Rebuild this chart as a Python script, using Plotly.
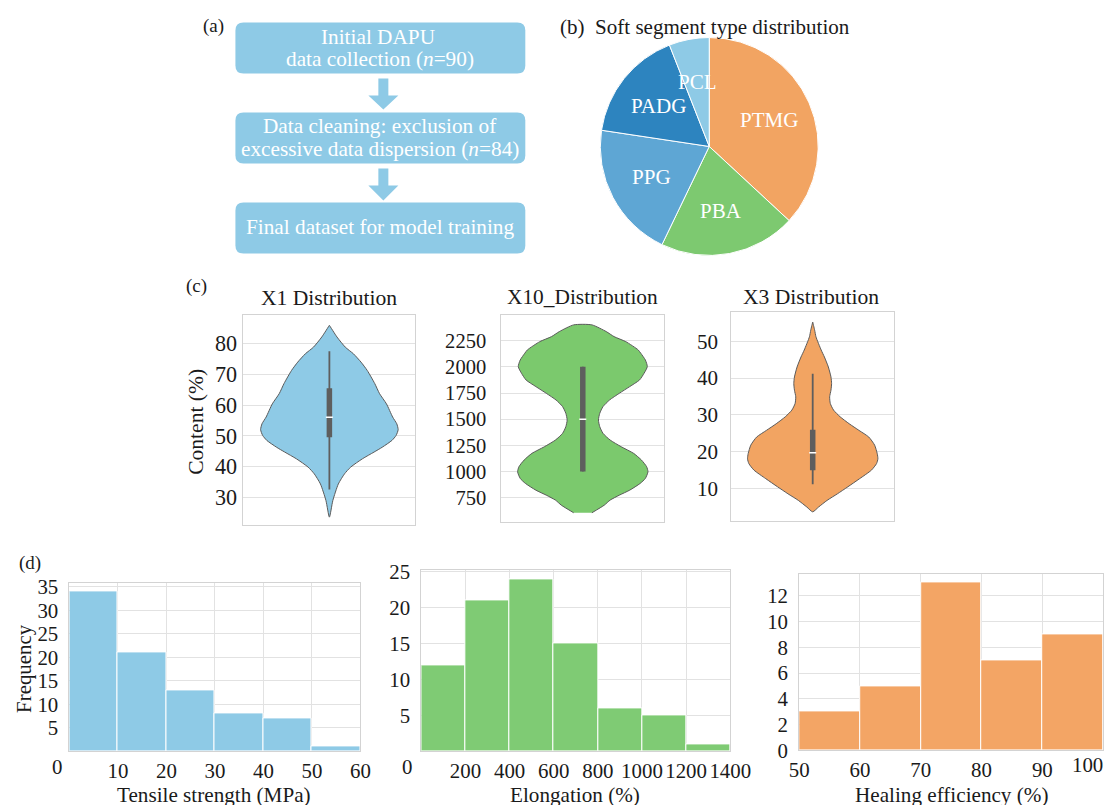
import math
import plotly.graph_objects as go

# The photographed page shows the figure shrunk by ~0.973 and offset by ~17.5 px;
# the layout below maps reference pixels through the inverse of that.
REF_W, REF_H = 1119, 805
S, OFF = 0.973, 17.5
W = math.ceil((REF_W - OFF) / S)
H = math.ceil((REF_H - OFF) / S)
FONT = "Liberation Serif"
TXT = "#1a1a1a"

# ---------------- data ----------------
# (a) flowchart text
flow_box1 = ["Initial DAPU", "data collection (<i>n</i>=90)"]
flow_box2 = ["Data cleaning: exclusion of", "excessive data dispersion (<i>n</i>=84)"]
flow_box3 = ["Final dataset for model training"]

# (b) soft segment type distribution
soft_labels = ["PTMG", "PBA", "PPG", "PADG", "PCL"]
soft_counts = [31, 17, 17, 14, 5]
soft_colors = ["#F2A462", "#7DC970", "#5EA6D4", "#2D84BF", "#8ECAE6"]

# (c) violin density profiles (value, relative half-width)
x1_levels = [23.5, 28.9, 34.3, 37.6, 39.8, 42.5, 44.7, 46.3, 48.5, 50.1, 52.0, 53.9,
             56.1, 60.4, 63.7, 67.0, 71.3, 74.0, 76.7, 78.9, 82.2, 86.0]
x1_width = [0, 0.05, 0.13, 0.22, 0.31, 0.48, 0.65, 0.77, 0.91, 0.97, 1.0, 0.98,
            0.92, 0.83, 0.73, 0.66, 0.55, 0.46, 0.35, 0.23, 0.11, 0]
x1_box = [32.5, 49.5, 56.0, 65.5, 77.5]   # whisker low, q1, median, q3, whisker high

x10_levels = [607, 680, 728, 775, 823, 887, 935, 998, 1046, 1110, 1174, 1237, 1301, 1365,
              1429, 1492, 1556, 1620, 1683, 1747, 1811, 1874, 1938, 2002, 2065, 2129,
              2161, 2240, 2288, 2336, 2400]
x10_width = [0.14, 0.33, 0.42, 0.56, 0.72, 0.88, 0.96, 1.0, 0.98, 0.90, 0.78, 0.59, 0.42,
             0.31, 0.26, 0.24, 0.26, 0.31, 0.41, 0.56, 0.72, 0.87, 0.94, 0.99, 0.96, 0.89,
             0.85, 0.66, 0.48, 0.36, 0.14]
x10_box = [1000, 1000, 1500, 2000, 2000]

x3_levels = [3.7, 5.0, 6.8, 8.6, 10.5, 12.7, 15.0, 16.8, 18.1, 19.5, 21.8, 24.0, 25.8,
             27.6, 29.5, 31.3, 33.1, 34.9, 36.7, 38.5, 40.3, 43.0, 45.7, 47.6, 51.2, 53.0, 55.2]
x3_width = [0, 0.09, 0.22, 0.38, 0.54, 0.72, 0.90, 0.98, 1.0, 0.99, 0.95, 0.86, 0.71,
            0.56, 0.42, 0.32, 0.27, 0.26, 0.28, 0.29, 0.28, 0.24, 0.18, 0.13, 0.05, 0.03, 0]
x3_box = [11.2, 15.0, 19.7, 26.0, 41.2]

violin_titles = ["X1 Distribution", "X10_Distribution", "X3 Distribution"]
violin_colors = ["#8ECAE6", "#7BC96D", "#F2A462"]

# (d) histograms
ts_edges = [0, 10, 20, 30, 40, 50, 60]
ts_counts = [34, 21, 13, 8, 7, 1]
el_edges = [0, 200, 400, 600, 800, 1000, 1200, 1400]
el_counts = [12, 21, 24, 15, 6, 5, 1]
he_edges = [50, 60, 70, 80, 90, 100]
he_counts = [3, 5, 13, 7, 9]
hist_titles = ["Tensile strength (MPa)", "Elongation (%)", "Healing efficiency (%)"]
hist_colors = ["#8ECAE6", "#7FCB74", "#F3A565"]


def fpx(v):
    return (v - OFF) / S


def px(x):
    return fpx(x) / W


def py(y):
    return 1 - fpx(y) / H


def fs(size):
    return size / S


fig = go.Figure()
annotations = []
shapes = []


def ann(text, x, y, size=20.8, color=TXT, angle=0, xanchor="center"):
    annotations.append(dict(text=text, x=px(x), y=py(y), xref="paper", yref="paper",
                            showarrow=False, xanchor=xanchor, yanchor="middle",
                            textangle=angle, font=dict(family=FONT, size=fs(size), color=color)))


# ---------------- (a) flowchart ----------------
BOX = "#8ECAE6"


def rrect(x0, y0, x1, y1, r=8):
    X0, X1 = px(x0), px(x1)
    Y0, Y1 = py(y0), py(y1)
    rx, ry = r / S / W, r / S / H
    return (f"M {X0+rx},{Y0} L {X1-rx},{Y0} Q {X1},{Y0} {X1},{Y0-ry} "
            f"L {X1},{Y1+ry} Q {X1},{Y1} {X1-rx},{Y1} L {X0+rx},{Y1} "
            f"Q {X0},{Y1} {X0},{Y1+ry} L {X0},{Y0-ry} Q {X0},{Y0} {X0+rx},{Y0} Z")


def arrow(ytop, yhead, ytip, xc=383):
    pts = [(xc - 5, ytop), (xc + 5, ytop), (xc + 5, yhead), (xc + 15, yhead), (xc, ytip),
           (xc - 15, yhead), (xc - 5, yhead)]
    return "M " + " L ".join(f"{px(a)},{py(b)}" for a, b in pts) + " Z"


for (y0, y1) in [(22, 73), (112, 163), (202, 253)]:
    shapes.append(dict(type="path", path=rrect(235, y0, 525, y1), xref="paper", yref="paper",
                       fillcolor=BOX, line=dict(width=0), layer="below"))
shapes.append(dict(type="path", path=arrow(78, 95, 109), xref="paper", yref="paper",
                   fillcolor=BOX, line=dict(width=0)))
shapes.append(dict(type="path", path=arrow(168, 185, 200), xref="paper", yref="paper",
                   fillcolor=BOX, line=dict(width=0)))

FLOW_FS = 20.7
ann(flow_box1[0], 378, 37, FLOW_FS, "white")
ann(flow_box1[1], 380, 59, FLOW_FS, "white")
ann(flow_box2[0], 380, 126, FLOW_FS, "white")
ann(flow_box2[1], 380, 149, FLOW_FS, "white")
ann(flow_box3[0], 380, 227, FLOW_FS, "white")
ann("(a)", 213, 26, 18.5)

# ---------------- (b) pie ----------------
PCX, PCY, PR = 709, 146, 109
fig.add_trace(go.Pie(labels=soft_labels, values=soft_counts, sort=False, direction="clockwise",
                     rotation=0, marker=dict(colors=soft_colors, line=dict(color="white", width=1)),
                     textinfo="none", hoverinfo="label+value", showlegend=False,
                     domain=dict(x=[px(PCX - PR), px(PCX + PR)], y=[py(PCY + PR), py(PCY - PR)])))
tot = sum(soft_counts)
cum = 0
for lab, v in zip(soft_labels, soft_counts):
    mid = (cum + v / 2) / tot * 2 * math.pi
    cum += v
    ann(lab, PCX + 0.6 * PR * math.sin(mid), PCY - 0.6 * PR * math.cos(mid), 20.5, "white")
ann("(b)  Soft segment type distribution", 705, 27, 20.5)

# ---------------- (c) violins ----------------
vio_layout = [
    dict(xd=[243, 415], yd=[315, 525], yr=[20.8, 89.2], tv=[30, 40, 50, 60, 70, 80], so=1, tf=21.5),
    dict(xd=[501, 664], yd=[315, 522], yr=[515, 2490],
         tv=[750, 1000, 1250, 1500, 1750, 2000, 2250], so=10, tf=20),
    dict(xd=[731, 894], yd=[312, 521], yr=[1.1, 57.8], tv=[10, 20, 30, 40, 50], so=8, tf=20.5),
]
vio_data = [(x1_levels, x1_width, x1_box), (x10_levels, x10_width, x10_box),
            (x3_levels, x3_width, x3_box)]
GRID = "#e2e2e2"
FRAME = "#d3d3d3"
BOXC = "#5e5e5e"
for i, ((lev, wid, bx), lay) in enumerate(zip(vio_data, vio_layout)):
    n = i + 1
    xa, ya = ("x" if n == 1 else f"x{n}"), ("y" if n == 1 else f"y{n}")
    half = [0.4 * w for w in wid]
    xs = half + [-h for h in half[::-1]]
    ys = lev + lev[::-1]
    fig.add_trace(go.Scatter(x=xs, y=ys, mode="lines", fill="toself", fillcolor=violin_colors[i],
                             line=dict(color="#5a5a5a", width=1, shape="spline", smoothing=0.6),
                             xaxis=xa, yaxis=ya, showlegend=False, hoverinfo="skip"))
    fig.add_trace(go.Scatter(x=[0, 0], y=[bx[0], bx[4]], mode="lines",
                             line=dict(color=BOXC, width=1.8), xaxis=xa, yaxis=ya,
                             showlegend=False, hoverinfo="skip"))
    fig.add_trace(go.Scatter(x=[0, 0], y=[bx[1], bx[3]], mode="lines",
                             line=dict(color=BOXC, width=5.5), xaxis=xa, yaxis=ya,
                             showlegend=False, hoverinfo="skip"))
    fig.add_trace(go.Scatter(x=[0], y=[bx[2]], mode="markers",
                             marker=dict(symbol="line-ew-open", size=5, color="white",
                                         line=dict(color="white", width=1.5)),
                             xaxis=xa, yaxis=ya, showlegend=False, hoverinfo="skip"))
    xkey = "xaxis" if n == 1 else f"xaxis{n}"
    ykey = "yaxis" if n == 1 else f"yaxis{n}"
    fig.update_layout(**{
        xkey: dict(domain=[px(lay["xd"][0]), px(lay["xd"][1])], range=[-0.5, 0.5], anchor=ya,
                   showgrid=False, zeroline=False, showticklabels=False, ticks="",
                   showline=True, linecolor=FRAME, linewidth=1, mirror=True, fixedrange=True),
        ykey: dict(domain=[py(lay["yd"][1]), py(lay["yd"][0])], range=lay["yr"], anchor=xa,
                   tickvals=lay["tv"], showgrid=True, gridcolor=GRID, gridwidth=1, zeroline=False,
                   ticks="", ticklabelstandoff=lay["so"],
                   tickfont=dict(family=FONT, size=fs(lay["tf"]), color=TXT),
                   showline=True, linecolor=FRAME, linewidth=1, mirror=True),
    })

ann(violin_titles[0], 329, 298, 21)
ann(violin_titles[1], 582, 297, 20.8)
ann(violin_titles[2], 811, 297, 21)
ann("Content (%)", 196, 421, 21, angle=-90)
ann("(c)", 196, 286, 18.5)

# ---------------- (d) histograms ----------------
HT = 20.3
hist_layout = [
    dict(xd=[69, 360], yd=[583, 751], tvy=[5, 10, 15, 20, 25, 30, 35], tvx=[10, 20, 30, 40, 50, 60]),
    dict(xd=[421, 730], yd=[570, 751], tvy=[5, 10, 15, 20, 25],
         tvx=[200, 400, 600, 800, 1000, 1200, 1400]),
    dict(xd=[799, 1103], yd=[574, 750], tvy=[0, 2, 4, 6, 8, 10, 12], tvx=[50, 60, 70, 80, 90]),
]
hist_data = [(ts_edges, ts_counts), (el_edges, el_counts), (he_edges, he_counts)]
for i, ((edges, counts), lay) in enumerate(zip(hist_data, hist_layout)):
    n = i + 4
    xa, ya = f"x{n}", f"y{n}"
    centers = [(a + b) / 2 for a, b in zip(edges[:-1], edges[1:])]
    widths = [b - a for a, b in zip(edges[:-1], edges[1:])]
    fig.add_trace(go.Bar(x=centers, y=counts, width=widths, marker=dict(color=hist_colors[i],
                         line=dict(color="white", width=1)), xaxis=xa, yaxis=ya,
                         showlegend=False, hoverinfo="x+y"))
    fig.update_layout(**{
        f"xaxis{n}": dict(domain=[px(lay["xd"][0]), px(lay["xd"][1])], range=[edges[0], edges[-1]],
                          anchor=ya, tickvals=lay["tvx"], tickangle=0, showgrid=True,
                          gridcolor=GRID, zeroline=False, ticks="", ticklabelstandoff=1,
                          tickfont=dict(family=FONT, size=fs(HT), color=TXT),
                          showline=True, linecolor=FRAME, linewidth=1, mirror=True),
        f"yaxis{n}": dict(domain=[py(lay["yd"][1]), py(lay["yd"][0])],
                          range=[0, max(counts) * 1.05], anchor=xa, tickvals=lay["tvy"],
                          showgrid=True, gridcolor=GRID, zeroline=False, ticks="",
                          ticklabelstandoff=6, tickfont=dict(family=FONT, size=fs(HT), color=TXT),
                          showline=True, linecolor=FRAME, linewidth=1, mirror=True),
    })
# the last x label of the healing-efficiency panel sits at the picture edge
annotations.append(dict(text=str(he_edges[-1]), x=he_edges[-1], y=0, xref="x6", yref="y6",
                        showarrow=False, xanchor="right", yanchor="top", xshift=2, yshift=-1,
                        font=dict(family=FONT, size=fs(HT), color=TXT)))

ann("0", 57, 767, HT)
ann("0", 407, 767, HT)
ann(hist_titles[0], 214, 795, 20.6)
ann(hist_titles[1], 575, 795, 20.6)
ann(hist_titles[2], 951, 795, 20.6)
ann("Frequency", 24, 668, 20.3, angle=-90)
ann("(d)", 30, 563, 18.5)

fig.update_layout(width=W, height=H, autosize=False, margin=dict(l=0, r=0, t=0, b=0),
                  paper_bgcolor="white", plot_bgcolor="white", bargap=0,
                  annotations=annotations, shapes=shapes,
                  font=dict(family=FONT, color=TXT))

fig.write_html("out.html")
